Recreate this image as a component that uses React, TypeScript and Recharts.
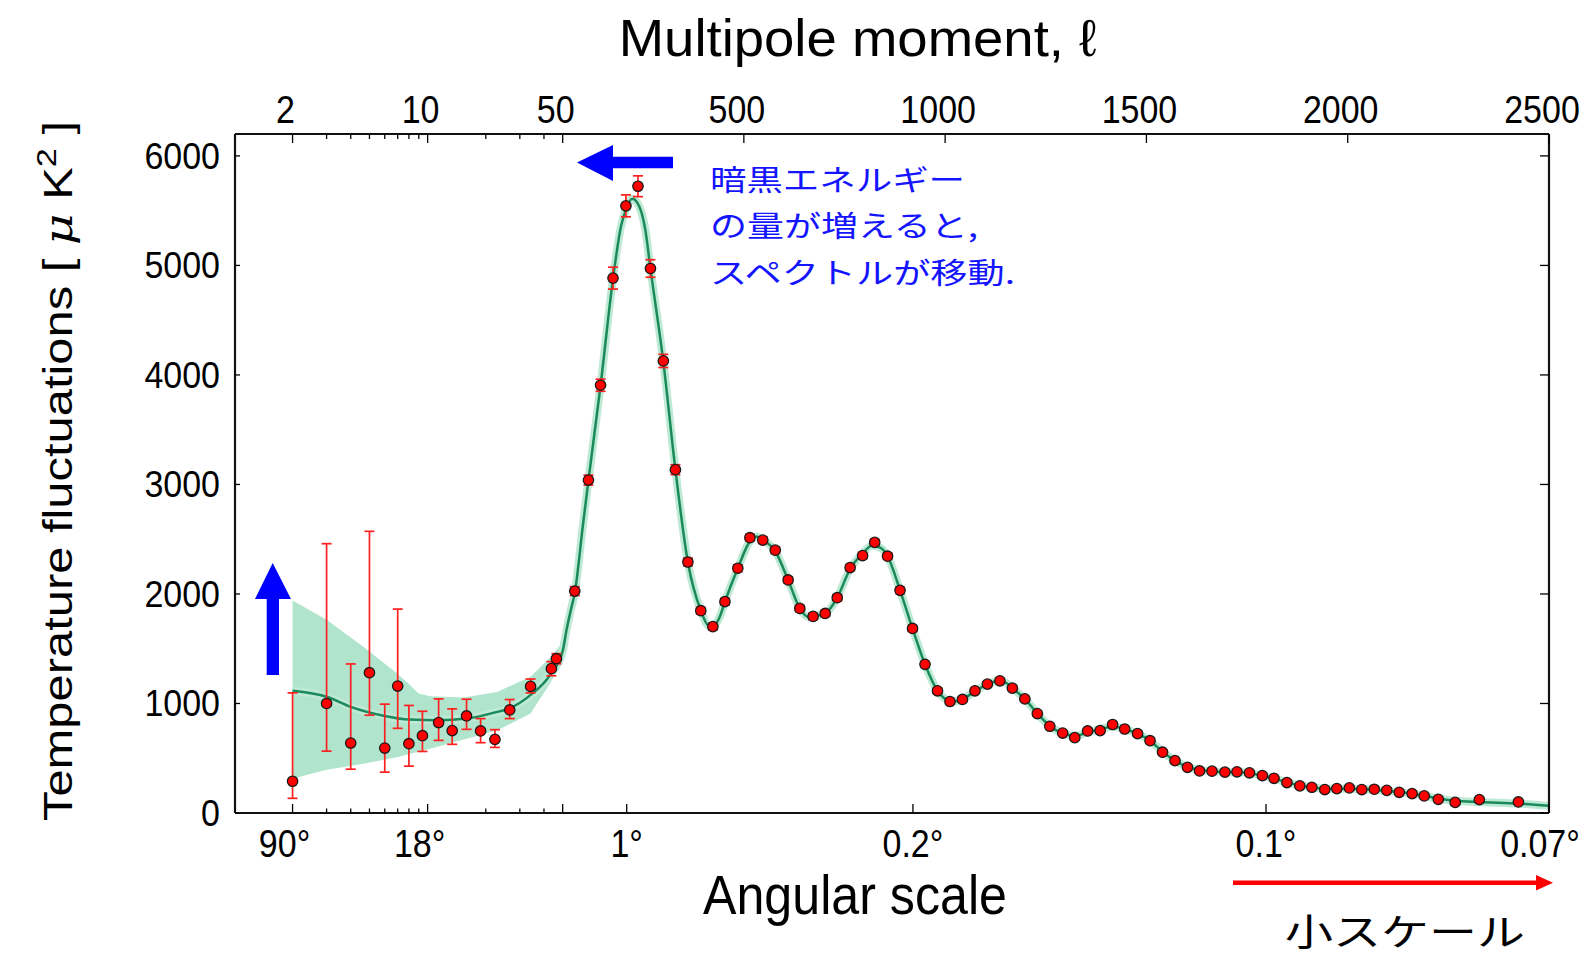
import React from 'react';
import { ComposedChart, XAxis, YAxis, Line, Area, Scatter, ErrorBar } from 'recharts';

// binned measurements: multipole, D_l [uK^2], lower / upper error
const pointEll = [
  2, 3, 4, 5, 6, 7, 8, 9.4, 11.4, 13.4, 15.9, 18.8, 22.3, 26.6, 34.1, 43.7, 46.4,
  80, 114, 144, 175, 207, 237, 268, 300, 330, 361, 393, 423, 453, 485, 515, 547, 578, 610, 639, 672,
  702, 732, 764, 795, 825, 857, 888, 919, 950, 981, 1012, 1043, 1074, 1105, 1136, 1167, 1198, 1229,
  1260, 1292, 1322, 1354, 1385, 1416, 1446, 1478, 1509, 1540, 1571, 1602, 1632, 1663, 1695, 1725,
  1756, 1788, 1817, 1849, 1881, 1911, 1943, 1973, 2004, 2035, 2066, 2097, 2128, 2160, 2190, 2225,
  2267, 2327, 2424,
];
const pointVal = [
  290, 1000, 639, 1281, 593, 1159, 633, 706, 826, 752, 886, 749, 672, 941, 1156, 1318, 1409,
  2026, 3040, 3906, 4884, 5544, 5723, 4972, 4128, 3135, 2292, 1847, 1702, 1930, 2235, 2514, 2492, 2400, 2128, 1868, 1795,
  1822, 1966, 2241, 2351, 2471, 2345, 2033, 1685, 1358, 1116, 1018, 1037, 1116, 1177, 1207, 1140, 1042, 908,
  792, 730, 688, 749, 752, 808, 767, 725, 660, 555, 478, 417, 384, 382, 373, 376,
  367, 342, 317, 278, 248, 235, 214, 223, 229, 214, 217, 207, 189, 177, 156, 125,
  97, 122, 101,
];
const lowEllErrLow = [156, 435, 239, 388, 220, 386, 205, 144, 163, 125, 122, 107, 73, 79, 59, 65, 46];
const lowEllErrHigh = [807, 1459, 722, 1291, 401, 703, 349, 223, 216, 199, 153, 113, 89, 95, 67, 64, 46];
const binErr = [
  40, 45, 55, 100, 100, 95, 80, 60, 45, 35, 30, 30, 30, 30, 30, 30, 30, 28, 28, 28,
  28, 28, 28, 28, 28, 28, 28, 26, 24, 24, 22, 22, 22, 22, 22, 22, 22, 20,
  20, 20, 20, 20, 20, 20, 20, 20, 20, 20, 20, 20, 20, 20, 20, 20,
  20, 20, 20, 20, 20, 20, 20, 20, 20, 20, 20, 20, 20, 20,
  22, 22, 22,
];

// best-fit model curve
const theoryEll = [
  2, 3, 4, 6, 8, 11.4, 15.9, 22.2, 26.6, 34, 43.6, 50, 60, 70, 80, 100, 114, 144, 175, 195,
  207, 223, 240, 255, 268, 300, 330, 361, 393, 412, 423, 440, 453, 485, 515, 532, 547, 578, 610, 639,
  660, 672, 702, 732, 764, 795, 818, 840, 857, 888, 919, 950, 981, 1012, 1030, 1043, 1074, 1105, 1130, 1150,
  1167, 1198, 1229, 1260, 1292, 1322, 1354, 1385, 1416, 1446, 1478, 1509, 1540, 1571, 1602, 1632, 1663, 1695, 1725, 1756,
  1788, 1817, 1849, 1881, 1911, 1943, 1973, 2004, 2035, 2066, 2097, 2128, 2160, 2190, 2225, 2267, 2327, 2424, 2500,
];
const theoryVal = [
  1116, 1061, 969, 886, 853, 847, 862, 917, 957, 1076, 1275, 1480, 1680, 1850, 2010, 2620, 3040, 3900, 4880, 5360,
  5510, 5608, 5540, 5330, 4970, 4120, 3135, 2290, 1850, 1712, 1705, 1790, 1930, 2235, 2480, 2525, 2495, 2390, 2128, 1868,
  1790, 1795, 1822, 1966, 2230, 2370, 2440, 2420, 2345, 2033, 1685, 1358, 1116, 1025, 1020, 1040, 1110, 1177, 1205, 1190,
  1140, 1042, 908, 795, 728, 705, 735, 765, 790, 765, 725, 660, 560, 478, 420, 392, 380, 374, 372, 364,
  342, 316, 280, 252, 235, 222, 222, 223, 216, 211, 203, 190, 176, 158, 132, 112, 100, 86, 67,
];

// cosmic variance band at low multipoles
const bandEll = [2, 3, 4.65, 6.93, 8.1, 8.97, 10.3, 15.4, 22.9, 34.1, 43.6, 50, 60];
const bandLow = [312, 394, 450, 510, 540, 560, 587, 670, 755, 908, 1200, 1420, 1610];
const bandHigh = [1941, 1764, 1519, 1275, 1168, 1092, 1067, 1055, 1106, 1244, 1428, 1560, 1750];

// axis ticks
const topTickEll = [2, 10, 50, 500, 1000, 1500, 2000, 2500];
const topTickLabels = ['2', '10', '50', '500', '1000', '1500', '2000', '2500'];
const minorTickEll = [3, 4, 5, 6, 7, 8, 9, 20, 30, 40];
const bottomTickEll = [2, 10, 50, 209, 920, 1797, 2500];
const bottomTickLabels = ['90°', '18°', '', '1°', '0.2°', '0.1°', '0.07°'];
const yTicks = [0, 1000, 2000, 3000, 4000, 5000, 6000];

// axis is logarithmic below l=50 and linear above
const toU = (ell: number) => (ell >= 50 ? ell : 50 - 480 * Math.log10(50 / ell));

const FONT = '"Liberation Sans", Arial, sans-serif';
const JP = '"Noto Sans CJK JP", sans-serif';

const pointRows = pointEll.map((l, i) => ({
  u: toU(l),
  v: pointVal[i],
  err: i < lowEllErrLow.length ? [lowEllErrLow[i], lowEllErrHigh[i]] : [binErr[i - 17], binErr[i - 17]],
}));
const theoryRows = theoryEll.map((l, i) => ({ u: toU(l), v: theoryVal[i] }));
const bandRows = bandEll.map((l, i) => ({ u: toU(l), band: [bandLow[i], bandHigh[i]] }));

const topLabel = new Map(topTickEll.map((l, i) => [toU(l), topTickLabels[i]]));
const bottomLabel = new Map(bottomTickEll.map((l, i) => [toU(l), bottomTickLabels[i]]));
const topTicks = [...topTickEll, ...minorTickEll].map(toU);
const bottomTicks = [...bottomTickEll, ...minorTickEll].map(toU);

// the degree labels that sit left of their tick in the original
const bottomNudge: Record<string, number> = { '90°': -8, '18°': -8, '0.07°': -9 };

// plot box edges (px), ticks are drawn inward from them
const PLOT_TOP = 134;
const PLOT_BOTTOM = 813;
const PLOT_LEFT = 235;
const PLOT_RIGHT = 1549;

const TopTick = (p: any) => {
  const label = topLabel.get(p.payload.value);
  const major = label !== undefined;
  return (
    <g>
      <line x1={p.x} x2={p.x} y1={PLOT_TOP} y2={PLOT_TOP + (major ? 9 : 5)} stroke="#000" strokeWidth={1.3} />
      {label && (
        <text transform={`translate(${p.x - 7},${PLOT_TOP - 11}) scale(1,1.15)`} textAnchor="middle"
          fontSize={34} fontFamily={FONT} fill="#000">{label}</text>
      )}
    </g>
  );
};

const BottomTick = (p: any) => {
  const label = bottomLabel.get(p.payload.value);
  const major = label !== undefined;
  const dx = label ? bottomNudge[label] ?? 0 : 0;
  return (
    <g>
      <line x1={p.x} x2={p.x} y1={PLOT_BOTTOM} y2={PLOT_BOTTOM - (major ? 9 : 4.5)} stroke="#000" strokeWidth={1.3} />
      {label && (
        <text transform={`translate(${p.x + dx},${PLOT_BOTTOM + 44}) scale(1,1.15)`} textAnchor="middle"
          fontSize={34} fontFamily={FONT} fill="#000">{label}</text>
      )}
    </g>
  );
};

const LeftTick = (p: any) => (
  <g>
    <line x1={PLOT_LEFT} x2={PLOT_LEFT + 5} y1={p.y} y2={p.y} stroke="#000" strokeWidth={1.3} />
    <text transform={`translate(${PLOT_LEFT - 15},${p.y + 13}) scale(1,1.08)`} textAnchor="end"
      fontSize={34} fontFamily={FONT} fill="#000">{p.payload.value}</text>
  </g>
);

const RightTick = (p: any) => (
  <line x1={PLOT_RIGHT} x2={PLOT_RIGHT - 9} y1={p.y} y2={p.y} stroke="#000" strokeWidth={1.3} />
);

const dot = (p: any) => (
  <circle cx={p.cx} cy={p.cy} r={5.2} fill="#ff0000" stroke="#1a1a1a" strokeWidth={1.3} />
);

const frame = { stroke: '#111', strokeWidth: 2.2 };

export default function App() {
  return (
    <div style={{ position: 'absolute', left: 0, top: 0, width: 1585, height: 959, background: '#fff' }}>
      <ComposedChart width={1585} height={959} margin={{ top: 124, right: 26, bottom: 136, left: 225 }}>
        <XAxis xAxisId="bottom" dataKey="u" type="number" domain={[-764, 2500]} allowDataOverflow
          ticks={bottomTicks} interval={0} height={10} tickSize={0} tickMargin={0} tickLine={false}
          axisLine={frame} tick={BottomTick} />
        <XAxis xAxisId="top" orientation="top" dataKey="u" type="number" domain={[-764, 2500]} allowDataOverflow
          ticks={topTicks} interval={0} height={10} tickSize={0} tickMargin={0} tickLine={false}
          axisLine={frame} tick={TopTick} />
        <YAxis yAxisId="left" type="number" domain={[0, 6200]} allowDataOverflow ticks={yTicks} interval={0}
          width={10} tickSize={0} tickMargin={0} tickLine={false} axisLine={frame} tick={LeftTick} />
        <YAxis yAxisId="right" orientation="right" type="number" domain={[0, 6200]} allowDataOverflow
          ticks={yTicks} interval={0} width={10} tickSize={0} tickMargin={0} tickLine={false}
          axisLine={frame} tick={RightTick} />

        <Area data={bandRows} dataKey="band" xAxisId="bottom" yAxisId="left" type="linear"
          fill="#b0e4cd" fillOpacity={1} stroke="none" isAnimationActive={false} />
        <Line data={theoryRows} dataKey="v" xAxisId="bottom" yAxisId="left" type="monotone"
          stroke="#bde9d5" strokeWidth={8} dot={false} activeDot={false} isAnimationActive={false} />
        <Line data={theoryRows} dataKey="v" xAxisId="bottom" yAxisId="left" type="monotone"
          stroke="#1a8a5a" strokeWidth={2.5} dot={false} activeDot={false} isAnimationActive={false} />
        <Scatter data={pointRows} dataKey="v" xAxisId="bottom" yAxisId="left" shape={dot}
          isAnimationActive={false}>
          <ErrorBar dataKey="err" direction="y" width={5} stroke="#ff2020" strokeWidth={1.7} />
        </Scatter>
      </ComposedChart>

      <svg width={1585} height={959} style={{ position: 'absolute', left: 0, top: 0, pointerEvents: 'none' }}>
        <text x={857.7} y={55.6} textAnchor="middle" fontSize={52} fontFamily={FONT} fill="#000"
          textLength={478} lengthAdjust="spacingAndGlyphs">Multipole moment, ℓ</text>
        <text x={855} y={914} textAnchor="middle" fontSize={56} fontFamily={FONT} fill="#000"
          textLength={304} lengthAdjust="spacingAndGlyphs">Angular scale</text>
        <text transform="translate(72,471) rotate(-90)" textAnchor="middle" fontSize={40} fontFamily={FONT}
          fill="#000" textLength={700} lengthAdjust="spacingAndGlyphs">
          Temperature fluctuations [ <tspan fontStyle="italic" fontFamily='"DejaVu Serif", serif'>μ</tspan> K
          <tspan dy={-16} fontSize={28}>2</tspan><tspan dy={16}> ]</tspan>
        </text>

        <text x={710} y={191} fontSize={29} fontFamily={JP} fill="#1414ff" textLength={255}
          lengthAdjust="spacingAndGlyphs">暗黒エネルギー</text>
        <text x={710} y={237} fontSize={29} fontFamily={JP} fill="#1414ff" textLength={268}
          lengthAdjust="spacingAndGlyphs">の量が増えると,</text>
        <text x={710} y={284} fontSize={29} fontFamily={JP} fill="#1414ff" textLength={305}
          lengthAdjust="spacingAndGlyphs">スペクトルが移動.</text>
        <text x={1285} y={946} fontSize={37} fontFamily={JP} fill="#000" textLength={240}
          lengthAdjust="spacingAndGlyphs">小スケール</text>

        <polygon points="577,162.5 613,145 613,156.7 673,156.7 673,168.3 613,168.3 613,181" fill="#0000ff" />
        <polygon points="272.7,563 291,599 279,599 279,675 266.7,675 266.7,599 255,599" fill="#0000ff" />
        <line x1={1233} y1={882.7} x2={1540} y2={882.7} stroke="#ff0000" strokeWidth={4.5} />
        <polygon points="1553,882.7 1536,875 1536,890.5" fill="#ff0000" />
      </svg>
    </div>
  );
}
